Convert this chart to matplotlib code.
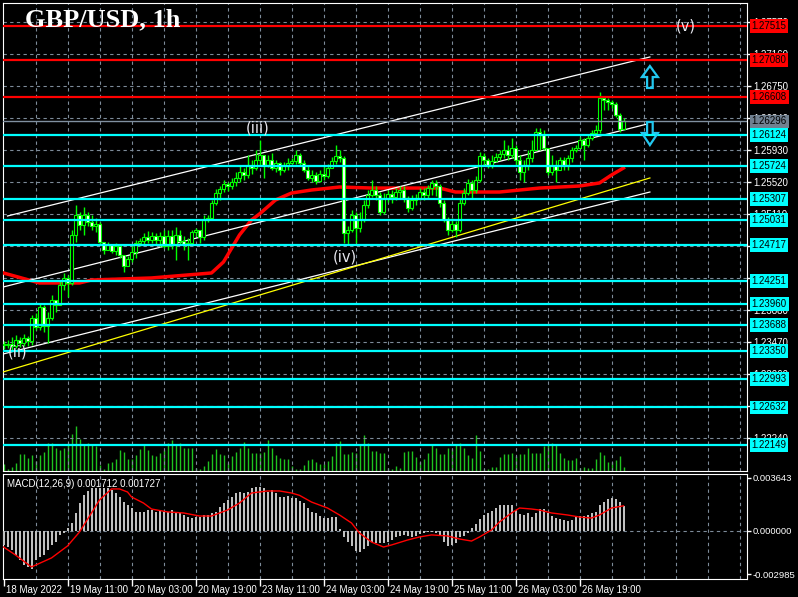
import matplotlib
matplotlib.use("Agg")
import matplotlib.pyplot as plt
import matplotlib.transforms as mtransforms
from matplotlib.patches import Polygon

W, H = 798, 597

# hourly candles, bar 0 = 18 May 2022 19:00 (open = previous close)
closes = [1.23433, 1.23445, 1.23420, 1.23497, 1.23458, 1.23522, 1.23484, 1.23778, 1.23663, 1.23919,
          1.23676, 1.23778, 1.24009, 1.23945, 1.24201, 1.24291, 1.24227, 1.24842, 1.25098, 1.24970,
          1.25098, 1.25008, 1.24957, 1.24983, 1.24752, 1.24650, 1.24714, 1.24637, 1.24701, 1.24585,
          1.24445, 1.24534, 1.24624, 1.24739, 1.24765, 1.24816, 1.24778, 1.24829, 1.24778, 1.24829,
          1.24701, 1.24829, 1.24714, 1.24842, 1.24765, 1.24726, 1.24739, 1.24880, 1.24906, 1.24816,
          1.25034, 1.25059, 1.25252, 1.25380, 1.25431, 1.25495, 1.25469, 1.25521, 1.25572, 1.25649,
          1.25610, 1.25738, 1.25700, 1.25802, 1.25866, 1.25738, 1.25802, 1.25700, 1.25764, 1.25674,
          1.25725, 1.25764, 1.25790, 1.25866, 1.25764, 1.25674, 1.25572, 1.25610, 1.25533, 1.25623,
          1.25597, 1.25700, 1.25790, 1.25854, 1.25828, 1.24867, 1.24906, 1.25098, 1.24931, 1.25034,
          1.25226, 1.25354, 1.25418, 1.25354, 1.25136, 1.25316, 1.25367, 1.25328, 1.25392, 1.25418,
          1.25316, 1.25188, 1.25290, 1.25316, 1.25392, 1.25354, 1.25444, 1.25508, 1.25469, 1.25252,
          1.25034, 1.24906, 1.24983, 1.24906, 1.25252, 1.25380, 1.25508, 1.25418, 1.25546, 1.25854,
          1.25802, 1.25738, 1.25790, 1.25841, 1.25879, 1.25931, 1.25866, 1.25956, 1.25802, 1.25649,
          1.25738, 1.25828, 1.25931, 1.26161, 1.26123, 1.25956, 1.25649, 1.25738, 1.25674, 1.25802,
          1.25738, 1.25828, 1.25931, 1.25956, 1.26059, 1.25995, 1.26084, 1.26148, 1.26187, 1.26597,
          1.26571, 1.26545, 1.26520, 1.26379, 1.26200, 1.26296]
highs = [1.23484, 1.23497, 1.23535, 1.23561, 1.23535, 1.23573, 1.23548, 1.23817, 1.23842, 1.23958,
         1.23945, 1.23855, 1.24073, 1.24009, 1.24265, 1.24355, 1.24329, 1.24906, 1.25226, 1.25136,
         1.25200, 1.25136, 1.25098, 1.25059, 1.25008, 1.24739, 1.24752, 1.24701, 1.24739, 1.24675,
         1.24585, 1.24573, 1.24701, 1.24778, 1.24803, 1.24867, 1.24893, 1.24880, 1.24867, 1.24880,
         1.24906, 1.24906, 1.24906, 1.24944, 1.24906, 1.24829, 1.24803, 1.24906, 1.24931, 1.24906,
         1.25098, 1.25098, 1.25290, 1.25431, 1.25469, 1.25546, 1.25521, 1.25572, 1.25649, 1.25738,
         1.25700, 1.25866, 1.25802, 1.25931, 1.26059, 1.25854, 1.25866, 1.25892, 1.25802, 1.25777,
         1.25777, 1.25828, 1.25828, 1.25931, 1.25892, 1.25802, 1.25725, 1.25674, 1.25649, 1.25674,
         1.25725, 1.25751, 1.25841, 1.25995, 1.25931, 1.25854, 1.24957, 1.25162, 1.25136, 1.25136,
         1.25290, 1.25418, 1.25546, 1.25469, 1.25392, 1.25380, 1.25418, 1.25418, 1.25444, 1.25469,
         1.25469, 1.25341, 1.25354, 1.25367, 1.25444, 1.25444, 1.25482, 1.25546, 1.25546, 1.25495,
         1.25290, 1.25072, 1.25059, 1.25021, 1.25316, 1.25444, 1.25559, 1.25546, 1.25597, 1.25905,
         1.25892, 1.25828, 1.25866, 1.25892, 1.25931, 1.26059, 1.25995, 1.26084, 1.25995, 1.25866,
         1.25802, 1.25931, 1.26059, 1.26212, 1.26212, 1.26187, 1.25956, 1.25866, 1.25802, 1.25841,
         1.25841, 1.25866, 1.25969, 1.25995, 1.26097, 1.26084, 1.26123, 1.26187, 1.26251, 1.26674,
         1.26622, 1.26597, 1.26571, 1.26545, 1.26405, 1.26340]
lows = [1.23381, 1.23394, 1.23369, 1.23394, 1.23407, 1.23420, 1.23420, 1.23433, 1.23625, 1.23625,
        1.23599, 1.23458, 1.23753, 1.23855, 1.23945, 1.24137, 1.24047, 1.24201, 1.24752, 1.24906,
        1.24842, 1.24957, 1.24906, 1.24880, 1.24714, 1.24598, 1.24650, 1.24611, 1.24585, 1.24547,
        1.24368, 1.24457, 1.24496, 1.24547, 1.24701, 1.24714, 1.24739, 1.24739, 1.24726, 1.24688,
        1.24675, 1.24650, 1.24662, 1.24522, 1.24714, 1.24650, 1.24522, 1.24714, 1.24829, 1.24739,
        1.24778, 1.25008, 1.25034, 1.25226, 1.25290, 1.25392, 1.25405, 1.25431, 1.25469, 1.25521,
        1.25546, 1.25572, 1.25623, 1.25674, 1.25738, 1.25572, 1.25713, 1.25674, 1.25649, 1.25610,
        1.25649, 1.25674, 1.25751, 1.25751, 1.25725, 1.25649, 1.25546, 1.25521, 1.25495, 1.25521,
        1.25546, 1.25572, 1.25700, 1.25751, 1.25777, 1.24739, 1.24714, 1.24880, 1.24739, 1.24880,
        1.25008, 1.25188, 1.25328, 1.25290, 1.25098, 1.25111, 1.25264, 1.25252, 1.25290, 1.25316,
        1.25264, 1.25136, 1.25162, 1.25226, 1.25290, 1.25290, 1.25316, 1.25354, 1.25341, 1.25200,
        1.25008, 1.24842, 1.24880, 1.24816, 1.24880, 1.25226, 1.25354, 1.25316, 1.25380, 1.25521,
        1.25738, 1.25700, 1.25700, 1.25777, 1.25802, 1.25828, 1.25802, 1.25828, 1.25738, 1.25546,
        1.25521, 1.25674, 1.25777, 1.25995, 1.25931, 1.25931, 1.25610, 1.25610, 1.25521, 1.25725,
        1.25674, 1.25674, 1.25777, 1.25905, 1.25956, 1.25802, 1.25969, 1.26059, 1.26135, 1.26148,
        1.26443, 1.26443, 1.26469, 1.26353, 1.26161, 1.26187]
first_open = 1.23445
opens = [first_open] + closes[:-1]

# tick volume
volumes = [700, 200, 400, 800, 1700, 1700, 1300, 1600, 1000, 1600, 1900, 2800, 2800, 2300, 2100, 2300,
           2800, 3700, 4500, 3200, 2700, 2800, 2700, 2500, 600, 200, 800, 900, 1200, 2100, 1900, 1200,
           1200, 1600, 2200, 2600, 2100, 1600, 1500, 1800, 2100, 2800, 3100, 2700, 2800, 2300, 2300, 2300,
           300, 200, 500, 1000, 1700, 2200, 1700, 1600, 800, 1500, 1900, 2300, 2900, 2300, 1800, 1800,
           1800, 1900, 3100, 2300, 1600, 1300, 1200, 1200, 500, 200, 200, 600, 1100, 1200, 900, 700,
           700, 1000, 1500, 2800, 3000, 1700, 1700, 1900, 1800, 2700, 3600, 2800, 2000, 2000, 1800, 1800,
           300, 200, 500, 300, 1900, 2000, 2000, 1400, 900, 1200, 1800, 2700, 2300, 1700, 1700, 2300,
           2200, 2700, 2800, 2300, 1600, 1300, 3600, 2000, 200, 200, 400, 400, 1400, 1700, 1700, 1800,
           1500, 1700, 1700, 2300, 1800, 1800, 1800, 2500, 2700, 2800, 2600, 1800, 1300, 1100, 1100, 1300,
           300, 400, 300, 300, 1200, 1900, 1600, 900, 900, 1100, 1500, 400]

# moving average (read points)
ma_idx = [0, 9, 19, 22, 37, 52, 55, 59, 62, 64, 68, 72, 77, 84, 92, 99, 109, 113, 124, 134, 144, 149, 152, 155]
ma_val = [1.24355, 1.24227, 1.24227, 1.24265, 1.24291, 1.24355, 1.24496, 1.24842, 1.25034, 1.25111,
          1.25290, 1.25379, 1.25418, 1.25456, 1.25443, 1.25443, 1.25443, 1.25392, 1.25392, 1.25443,
          1.25469, 1.25508, 1.25610, 1.25700]

# MACD(12,26,9) histogram, x1e-5
macd_hist = [-96, -110, -131, -165, -199, -234, -247, -261, -199, -179, -165, -131, -96, -76, -27, -14,
             21, 55, 124, 192, 247, 275, 295, 295, 295, 295, 295, 282, 261, 234, 199, 179,
             158, 131, 131, 131, 144, 144, 131, 144, 131, 131, 144, 124, 124, 110, 96, 89,
             96, 96, 110, 110, 124, 131, 165, 192, 213, 234, 261, 268, 261, 268, 295, 302,
             302, 295, 268, 282, 261, 234, 234, 240, 227, 227,
             206, 192, 158, 131, 124, 103, 89, 89, 96, 96, 14, -41, -76, -103, -137, -144,
             -124, -103, -76, -82, -82, -82, -76, -62, -41, -34, -27, -34, -41, -34, -21, -14,
             -7, -7, -14, -27, -76, -103, -96, -82, -41, -34, -14, 21, 48, 82, 110, 124,
             137, 158, 179, 179, 179, 179, 144, 117, 110, 124, 96, 124, 151, 151, 124, 103,
             89, 82, 76, 69, 76, 96, 103, 103, 110, 124, 131, 179, 199, 220, 227, 220, 199, 171]
sig_idx = [0, 3, 7, 12, 16, 19, 22, 24, 27, 29, 31, 32, 35, 37, 41, 45, 49, 52, 56, 59, 62, 66, 69, 72,
           74, 77, 81, 84, 87, 89, 92, 95, 97, 101, 104, 107, 111, 114, 117, 119, 122, 124, 127,
           129, 132, 134, 137, 141, 144, 147, 149, 152, 155]
sig_val = [-110, -165, -247, -185, -103, -7, 124, 213, 289, 289, 268, 234, 192, 151, 131, 124, 103, 103,
           144, 192, 261, 275, 275, 261, 245, 199, 158, 110, 55, -14, -76, -110, -96, -62, -41, -27,
           -34, -55, -69, -41, 7, 62, 124, 158, 151, 144, 124, 110, 96, 89, 110, 158, 173]

red_levels = [1.27515, 1.27080, 1.26608]
cyan_levels = [1.26124, 1.25724, 1.25307, 1.25031, 1.24717, 1.24251, 1.23960, 1.23688, 1.23350,
               1.22993, 1.22632, 1.22149]
bid = 1.26296
price_ticks = [1.27570, 1.27160, 1.26750, 1.26340, 1.25930, 1.25520, 1.25110, 1.24700, 1.24290,
               1.23880, 1.23470, 1.23060, 1.22650, 1.22240]
macd_ticks = [0.003643, 0.0, -0.002985]

# trend lines: (bar0, price0, bar1, price1)
white_lines = [(1.0, 1.25085, 161.6, 1.27122),
               (-0.1, 1.24175, 160.9, 1.26263),
               (-0.1, 1.23317, 161.6, 1.25392)]
yellow_line = (-0.1, 1.23087, 161.6, 1.25572)

waves = [("(ii)", 3.4, 1.23343), ("(iii)", 63.6, 1.26212), ("(iv)", 85.4, 1.24560), ("(v)", 170.6, 1.27519)]

xt_idx = [0, 16, 32, 48, 64, 80, 96, 112, 128, 144]
xt_lab = ["18 May 2022", "19 May 11:00", "20 May 03:00", "20 May 19:00", "23 May 11:00",
          "24 May 03:00", "24 May 19:00", "25 May 11:00", "26 May 03:00", "26 May 19:00"]

SMALL = "Liberation Sans"
BG = "black"
GRID = "#7d8b99"
LIME = "#00ff00"
XMIN, XMAX = -0.125, 185.875
PTOP, PBOT = 1.278134, 1.218183

fig = plt.figure(figsize=(W / 100, H / 100), dpi=100, facecolor=BG)
rect_main = [3 / W, 1 - 471 / H, 744 / W, 468 / H]
axv = fig.add_axes(rect_main, facecolor=BG)
ax = fig.add_axes(rect_main, facecolor="none")
axm = fig.add_axes([3 / W, 1 - 579 / H, 744 / W, 105 / H], facecolor=BG)

# volumes behind everything
axv.vlines(range(len(volumes)), 0, volumes, color="#1fc21f", lw=1)
axv.set_xlim(XMIN, XMAX)
axv.set_ylim(0, 46800)
axv.axis("off")

ax.set_xlim(XMIN, XMAX)
ax.set_ylim(PBOT, PTOP)
for sp in ax.spines.values():
    sp.set_color("white")
ax.yaxis.tick_right()
ax.set_yticks(price_ticks)
ax.set_yticklabels(["%.5f" % v for v in price_ticks], fontsize=7, family=SMALL, color="white")
ax.tick_params(axis="y", colors="white", length=3, width=1, pad=1.5)
ax.set_xticks([])

for v in price_ticks:
    ax.axhline(v, color=GRID, lw=0.8, ls=(0, (3, 3)), zorder=1)
for i in range(8, 186, 8):
    ax.axvline(i, color=GRID, lw=0.8, ls=(0, (3, 3)), zorder=1)
    axm.axvline(i, color=GRID, lw=0.8, ls=(0, (3, 3)), zorder=1)

# MA and trend lines
ax.plot(ma_idx, ma_val, color="red", lw=2.5, zorder=3)
for x0, p0, x1, p1 in white_lines:
    ax.plot([x0, x1], [p0, p1], color="white", lw=0.9, zorder=3)
ax.plot([yellow_line[0], yellow_line[2]], [yellow_line[1], yellow_line[3]], color="yellow", lw=0.9, zorder=3)

# candles
idx = list(range(len(closes)))
wick_lo = [min(l, o, c) for l, o, c in zip(lows, opens, closes)]
wick_hi = [max(h, o, c) for h, o, c in zip(highs, opens, closes)]
ax.vlines(idx, wick_lo, wick_hi, color=LIME, lw=1, zorder=4)
for i, (o, c) in enumerate(zip(opens, closes)):
    fill = BG if c >= o else "white"
    ax.bar(i, max(abs(c - o), 0.00003), bottom=min(o, c), width=0.65, color=fill,
           edgecolor=LIME, linewidth=0.8, zorder=5)

# levels
for v in red_levels:
    ax.axhline(v, color="red", lw=1.6, zorder=6)
for v in cyan_levels:
    ax.axhline(v, color="#00ffff", lw=1.6, zorder=6)
ax.axhline(bid, color="#8090a0", lw=1, zorder=6)

# price boxes on the scale
trans = mtransforms.blended_transform_factory(ax.transAxes, ax.transData)
boxes = [(v, "red") for v in red_levels] + [(v, "#00ffff") for v in cyan_levels] + [(bid, "#708090")]
for v, col in boxes:
    ax.text(1.006, v, "%.5f" % v, transform=trans, fontsize=7, family=SMALL, color="black",
            va="center", ha="left", clip_on=False, zorder=10,
            bbox=dict(boxstyle="square,pad=0.2", fc=col, ec="none"))

# arrows
def arrow(xc, p_tail, p_base, p_tip):
    return Polygon([(xc - 0.7, p_tail), (xc + 0.7, p_tail), (xc + 0.7, p_base), (xc + 2, p_base),
                    (xc, p_tip), (xc - 2, p_base), (xc - 0.7, p_base)], closed=True,
                   fc="none", ec="#22c8f0", lw=1.6, zorder=7)

ax.add_patch(arrow(161.6, 1.26725, 1.26865, 1.27006))
ax.add_patch(arrow(161.6, 1.26289, 1.26148, 1.25994))

for t, x, p in waves:
    ax.text(x, p, t, color="#e8e8f0", fontsize=10.5, ha="center", va="center", zorder=8)

fig.text(25 / W, 1 - 20 / H, "GBP/USD, 1h", family="Liberation Serif", weight="bold", fontsize=19,
         color="white", va="center", ha="left")

# MACD panel
axm.set_xlim(XMIN, XMAX)
axm.set_ylim(-0.003298, 0.003916)
axm.bar(idx, [v * 1e-5 for v in macd_hist], width=0.5, color="#c0c0c0", zorder=3)
axm.plot(sig_idx, [v * 1e-5 for v in sig_val], color="red", lw=1, zorder=4)
axm.axhline(0, color=GRID, lw=0.8, ls=(0, (3, 3)), zorder=1)
for sp in axm.spines.values():
    sp.set_color("white")
axm.yaxis.tick_right()
axm.set_yticks(macd_ticks)
axm.set_yticklabels(["%.6f" % v for v in macd_ticks], fontsize=6.8, family=SMALL, color="white")
axm.tick_params(axis="y", colors="white", length=3, width=1, pad=1)
axm.set_xticks(xt_idx)
axm.set_xticklabels([])
axm.tick_params(axis="x", colors="white", length=5, width=1, direction="out")
lab_off = mtransforms.offset_copy(axm.get_xaxis_transform(), fig=fig, x=2, y=-4, units="points")
for i, t in zip(xt_idx, xt_lab):
    axm.text(i, 0, t, transform=lab_off, fontsize=7, family=SMALL, color="white",
             ha="left", va="top", clip_on=False)
axm.text(0.005, 0.95, "MACD(12,26,9) 0.001712 0.001727", transform=axm.transAxes, fontsize=7,
         family=SMALL, color="white", ha="left", va="top")

fig.savefig("out.png", dpi=100, facecolor=BG)
